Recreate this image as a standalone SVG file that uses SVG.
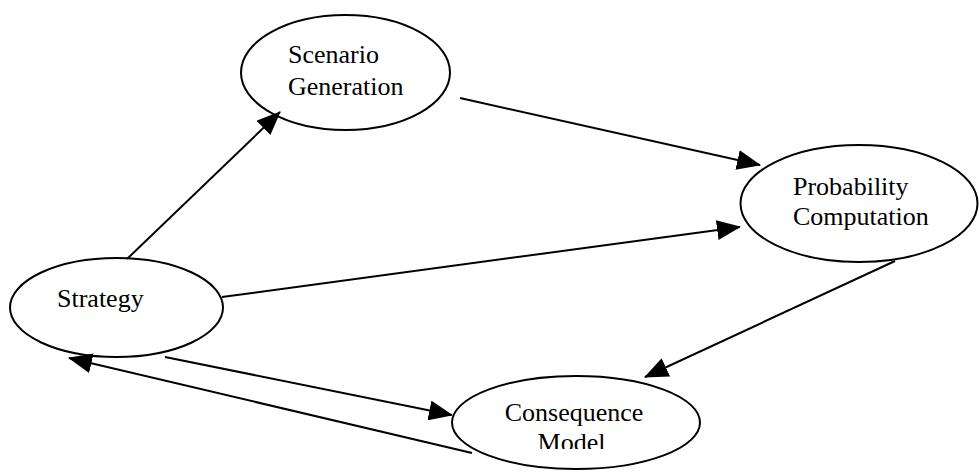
<svg xmlns="http://www.w3.org/2000/svg" width="979" height="472" viewBox="0 0 979 472">
<style>
.node ellipse{fill:#fff;stroke:#000;stroke-width:2}
.node text{font-family:"Liberation Serif","Times New Roman",serif;font-size:26px;fill:#000}
.edges line{stroke:#000;stroke-width:2;marker-end:url(#ah)}
</style>
<defs>
<marker id="ah" markerUnits="userSpaceOnUse" markerWidth="24" markerHeight="20" viewBox="0 0 24 20" refX="23" refY="10" orient="auto">
<path d="M0,0 L24,10 L0,20 z" fill="#000"/>
</marker>
<clipPath id="clipModel"><rect x="440" y="370" width="280" height="79"/></clipPath>
</defs>
<rect width="979" height="472" fill="#fff"/>
<g id="scenario" class="node">
<ellipse cx="345.5" cy="72.5" rx="104.5" ry="57.5"/>
<text x="288" y="63">Scenario</text>
<text x="288" y="95">Generation</text>
</g>
<g id="probability" class="node">
<ellipse cx="859" cy="203.5" rx="118.5" ry="58.5"/>
<text x="793" y="195">Probability</text>
<text x="793" y="225">Computation</text>
</g>
<g id="strategy" class="node">
<ellipse cx="116.5" cy="307.5" rx="106.5" ry="49.5"/>
<text x="57" y="307">Strategy</text>
</g>
<g id="consequence" class="node">
<ellipse cx="576" cy="422.5" rx="124" ry="46.5"/>
<g clip-path="url(#clipModel)">
<text x="574" y="421" text-anchor="middle">Consequence</text>
<text x="571.5" y="451" text-anchor="middle">Model</text>
</g>
</g>
<g id="connectors" class="edges">
<line x1="127" y1="259" x2="280" y2="112"/>
<line x1="460" y1="98" x2="760" y2="165"/>
<line x1="222" y1="297" x2="740" y2="227"/>
<line x1="895" y1="261" x2="645" y2="377"/>
<line x1="165" y1="357" x2="452" y2="415"/>
<line x1="472" y1="453" x2="69" y2="358"/>
</g>
</svg>
